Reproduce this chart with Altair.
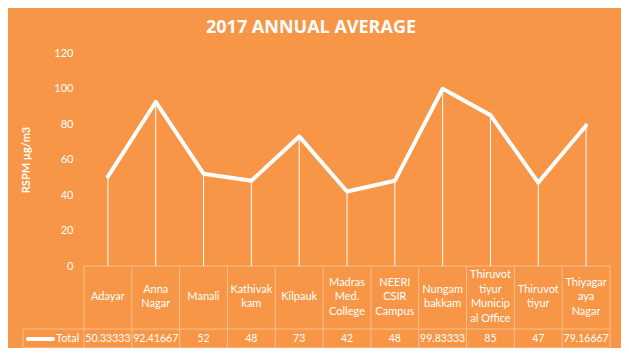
import altair as alt
import pandas as pd

# ---- data ----
categories = ["Adayar", "Anna Nagar", "Manali", "Kathivakkam", "Kilpauk",
              "Madras Med. College", "NEERI CSIR Campus", "Nungambakkam",
              "Thiruvottiyur Municipal Office", "Thiruvottiyur", "Thiyagaraya Nagar"]
header_labels = ["Adayar", "Anna\nNagar", "Manali", "Kathivak\nkam", "Kilpauk",
                 "Madras\nMed.\nCollege", "NEERI\nCSIR\nCampus", "Nungam\nbakkam",
                 "Thiruvot\ntiyur\nMunicip\nal Office", "Thiruvot\ntiyur", "Thiyagar\naya\nNagar"]
values = [50.33333, 92.41667, 52, 48, 73, 42, 48, 99.83333, 85, 47, 79.16667]
value_labels = ["50.33333", "92.41667", "52", "48", "73", "42", "48",
                "99.83333", "85", "47", "79.16667"]
y_ticks = [0, 20, 40, 60, 80, 100, 120]
series_name = "Total"

df = pd.DataFrame({"cat": categories, "hdr": header_labels,
                   "val": values, "vlab": value_labels})
df["nl"] = df["hdr"].str.count("\n") + 1
last_df = pd.DataFrame({"cat": [categories[-1]]})
one = pd.DataFrame({"s": [series_name]})

ORANGE = "#F79646"
BORDER = "#FBBF8C"
FONT = "Lato"
W, H = 526, 213
LH = 14.5

xs = alt.Scale(domain=categories, paddingInner=0, paddingOuter=0)
X = alt.X("cat:N", scale=xs, sort=categories, axis=None)
yaxis = alt.Axis(values=y_ticks, grid=False, domain=False, ticks=False,
                 labelOverlap=False, labelPadding=11, labelColor="white",
                 labelFont=FONT, labelFontSize=11, title="RSPM µg/m3",
                 titleColor="white", titleFont=FONT, titleFontSize=11,
                 titleFontWeight="bold", titlePadding=22)
Y = alt.Y("val:Q", scale=alt.Scale(domain=[0, 120]), axis=yaxis)

base = alt.Chart(df)
single = alt.Chart(one)

drop = base.mark_rule(color="white", strokeWidth=1).encode(
    x=X, y=Y, y2=alt.datum(0))

line = base.mark_line(color="white", strokeWidth=4, strokeJoin="round",
                      strokeCap="round").encode(x=X, y=Y)

# table borders
vrules = base.mark_rule(color=BORDER, strokeWidth=1).encode(
    x=alt.X("cat:N", scale=xs, sort=categories, axis=None, bandPosition=0),
    y=alt.value(H), y2=alt.value(295))
vlast = alt.Chart(last_df).mark_rule(color=BORDER, strokeWidth=1).encode(
    x=alt.X("cat:N", scale=xs, sort=categories, axis=None, bandPosition=1),
    y=alt.value(H), y2=alt.value(295))
htop = single.mark_rule(color=BORDER, strokeWidth=1).encode(
    x=alt.value(0), x2=alt.value(W), y=alt.value(H))
hmid = single.mark_rule(color=BORDER, strokeWidth=1).encode(
    x=alt.value(-61), x2=alt.value(W), y=alt.value(276))
hbot = single.mark_rule(color=BORDER, strokeWidth=1).encode(
    x=alt.value(-61), x2=alt.value(W), y=alt.value(295))
vleft = single.mark_rule(color=BORDER, strokeWidth=1).encode(
    x=alt.value(-61), y=alt.value(276), y2=alt.value(295))

hdr_layers = []
for n in [1, 2, 3, 4]:
    hdr_layers.append(
        base.transform_filter(alt.datum.nl == n).mark_text(
            color="white", font=FONT, fontSize=11, lineBreak="\n",
            lineHeight=LH, baseline="middle", align="center").encode(
            x=X, y=alt.value(244 - (n - 1) * LH / 2), text="hdr:N"))

val_text = base.mark_text(color="white", font=FONT, fontSize=10.5,
                          baseline="middle", align="center").encode(
    x=X, y=alt.value(286), text="vlab:N")

leg_line = single.mark_rule(color="white", strokeWidth=4, strokeCap="round").encode(
    x=alt.value(-56), x2=alt.value(-31), y=alt.value(286))
leg_text = single.mark_text(color="white", font=FONT, fontSize=11, align="left",
                            baseline="middle").encode(
    x=alt.value(-28), y=alt.value(286), text="s:N")

chart = alt.layer(
    vrules, vlast, htop, hmid, hbot, vleft, drop, line,
    *hdr_layers, val_text, leg_line, leg_text
).properties(
    width=W, height=H,
    title=alt.TitleParams("2017 ANNUAL AVERAGE", color="white", font="Open Sans",
                          fontSize=18, fontWeight="bold", anchor="middle",
                          dx=-36, offset=10),
    background=ORANGE,
    autosize=alt.AutoSizeParams(type="none"),
    padding={"left": 76, "top": 45, "right": 11, "bottom": 82},
).configure_view(stroke=None)

chart.save("out.html", embed_options={"renderer": "svg", "actions": False})
